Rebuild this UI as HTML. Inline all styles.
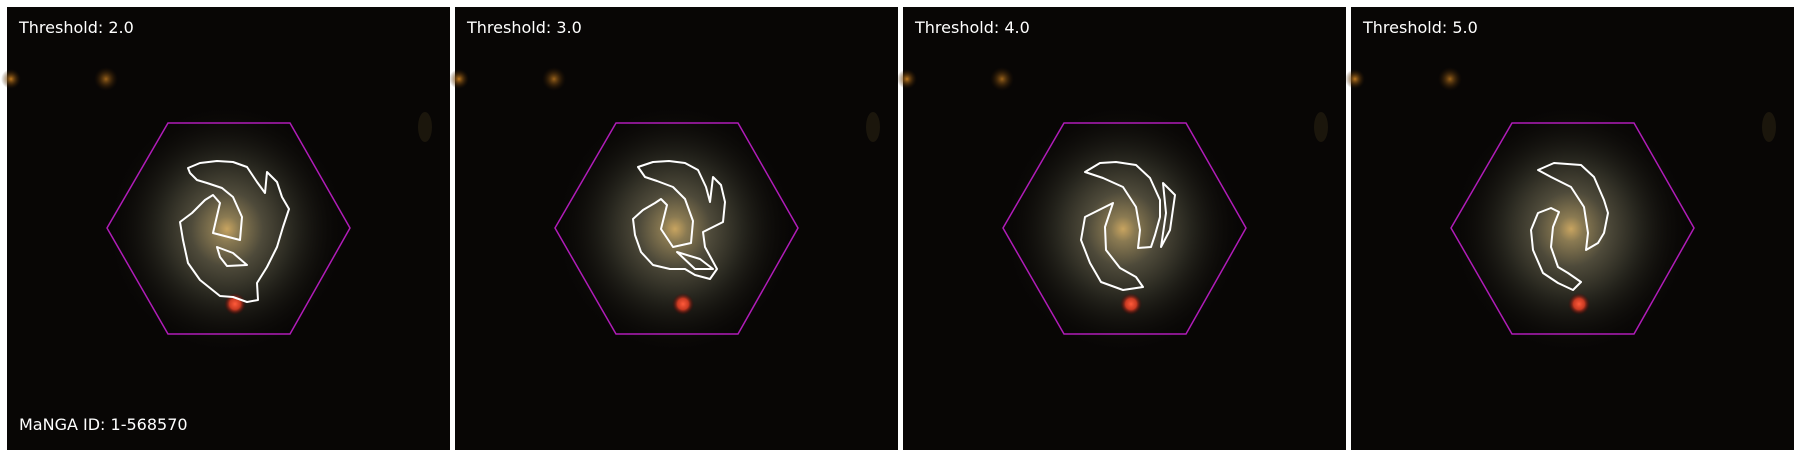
<!DOCTYPE html>
<html><head><meta charset="utf-8"><style>
html,body{margin:0;padding:0;background:#fff;width:1800px;height:457px;overflow:hidden}
svg{display:block}
text{font-family:"DejaVu Sans","Liberation Sans",sans-serif;fill:#fff;font-size:16px}
</style></head><body>
<svg id="fig" width="1800" height="457" viewBox="0 0 1800 457">
<defs>
<radialGradient id="glow" cx="0.5" cy="0.5" r="0.5">
<stop offset="0" stop-color="#c8a460"/>
<stop offset="0.1" stop-color="#8a7a52"/>
<stop offset="0.3" stop-color="#4e4a3a"/>
<stop offset="0.55" stop-color="#28271f"/>
<stop offset="1" stop-color="#0a0806" stop-opacity="0"/>
</radialGradient>
<radialGradient id="red" cx="0.5" cy="0.5" r="0.5">
<stop offset="0" stop-color="#ff5a3a"/>
<stop offset="0.5" stop-color="#c83a22"/>
<stop offset="1" stop-color="#400" stop-opacity="0"/>
</radialGradient>
<radialGradient id="orange" cx="0.5" cy="0.5" r="0.5">
<stop offset="0" stop-color="#c07a20"/>
<stop offset="1" stop-color="#301800" stop-opacity="0"/>
</radialGradient>
</defs>
<g id="panels"></g>
</svg>
<script>
const thresholds = [2.0, 3.0, 4.0, 5.0];
const panelX = [7, 455, 903, 1351];
const contours = [
 ["M181,161 L193,156 L210,154 L226,155 L240,160 L250,175 L258,186 L260,165 L270,175 L275,190 L282,202 L276,220 L270,240 L260,260 L250,276 L251,293 L240,295 L226,290 L213,289 L193,273 L181,256 L176,233 L173,215 L185,206 L198,193 L206,188 L213,196 L206,226 L233,233 L235,210 L226,190 L215,181 L200,176 L190,173 L183,166 Z",
  "M210,240 L226,246 L240,258 L220,259 L213,250 Z"],
 ["M183,160 L198,155 L214,154 L230,156 L243,163 L251,180 L255,195 L258,170 L266,178 L270,195 L268,215 L258,220 L248,225 L250,240 L262,262 L255,272 L240,268 L230,262 L215,262 L198,258 L186,245 L180,228 L178,212 L188,203 L200,196 L206,192 L212,198 L206,222 L218,240 L236,236 L238,214 L230,192 L218,180 L202,174 L190,170 Z",
  "M222,245 L245,252 L258,262 L240,262 Z"],
 ["M182,165 L197,156 L213,155 L233,158 L247,171 L257,193 L257,210 L252,228 L248,240 L235,241 L237,223 L233,200 L220,180 L200,171 Z",
  "M260,176 L272,188 L267,223 L258,240 L263,206 Z",
  "M182,210 L200,201 L210,196 L202,220 L203,243 L217,261 L233,270 L240,280 L220,283 L198,275 L187,256 L178,233 Z"],
 ["M187,163 L203,156 L230,158 L243,170 L253,193 L257,206 L253,226 L247,236 L235,243 L237,226 L233,200 L220,180 L200,170 Z",
  "M187,206 L200,201 L208,205 L202,220 L200,240 L207,260 L217,266 L230,275 L222,283 L207,276 L192,266 L182,243 L180,223 Z"]
];
const hex = [[100,221],[161,116],[283,116],[343,221],[283,327],[161,327]];
const NS='http://www.w3.org/2000/svg';
const root=document.getElementById('panels');
function mk(t,a,p){const e=document.createElementNS(NS,t);for(const k in a)e.setAttribute(k,a[k]);p.appendChild(e);return e;}
thresholds.forEach((th,i)=>{
 const g=mk('g',{transform:`translate(${panelX[i]},7)`},root);
 
 
 const bg=mk('rect',{x:0,y:0,width:443,height:443,fill:'#080605'},g);
 
 
 mk('circle',{cx:4,cy:72,r:10,fill:'url(#orange)'},g);
 mk('circle',{cx:99,cy:72,r:12,fill:'url(#orange)',opacity:0.8},g);
 mk('ellipse',{cx:418,cy:120,rx:7,ry:15,fill:'#2e2614',opacity:0.5},g);
 const gl=mk('ellipse',{cx:220,cy:222,rx:120,ry:125,fill:'url(#glow)'},g);
 
 
 const rb=mk('circle',{cx:228,cy:297,r:11,fill:'url(#red)'},g);
 
 
 const hx=mk('polygon',{points:hex.map(p=>p.join(',')).join(' '),fill:'none',stroke:'#b01cb8','stroke-width':1.5},g);
 
 
 contours[i].forEach((d,j)=>{
  const c=mk('path',{d:d,fill:'none',stroke:'#fff','stroke-width':2,'stroke-linejoin':'round'},g);
  
  
 });
 const t=mk('text',{x:12,y:26},g);
 t.textContent='Threshold: '+th.toFixed(1);
 
 
 if(i===0){
  const m=mk('text',{x:12,y:423},g);
  m.textContent='MaNGA ID: 1-568570';
  
  
 }
});
</script>
</body></html>
